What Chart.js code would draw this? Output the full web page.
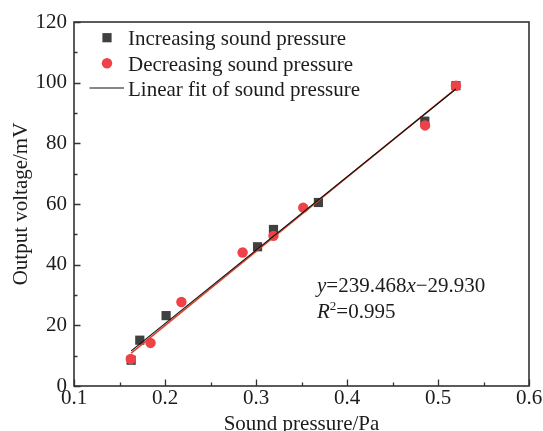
<!DOCTYPE html>
<html>
<head>
<meta charset="utf-8">
<script src="https://cdn.jsdelivr.net/npm/chart.js@4.4.0/dist/chart.umd.min.js"></script>
<style>
html,body{margin:0;padding:0;background:#fff}
canvas{display:block}
</style>
</head>
<body>
<canvas id="chart" width="543" height="431"></canvas>
<script>
// ── data ──
const incX=[0.1628,0.1723,0.2012,0.3017,0.3192,0.3686,0.4855,0.5197];
const incY=[8.5,15.1,23.2,45.9,51.6,60.5,87.3,99.0];
const decX=[0.1624,0.1841,0.2180,0.2853,0.3192,0.3519,0.4858,0.5197];
const decY=[8.9,14.2,27.7,44.0,49.5,58.8,85.9,99.0];
const fitX=[0.1628,0.5197];
const fitY=[11.6,97.9];
const fitRedY=[10.8,98.0];
const xTicks=[0.1,0.2,0.3,0.4,0.5,0.6];
const yTicks=[0,20,40,60,80,100,120];
const labels=['Increasing sound pressure','Decreasing sound pressure','Linear fit of sound pressure'];
const eqLine1=[['y',true],['=239.468',false],['x',true],['\u221229.930',false]];
const eqLine2=[['R',true],['2','sup'],['=0.995',false]];

const FONT='"Liberation Serif","Times New Roman",serif';
const TXT='#1c1c1c', AX='#333';
const pts=(xs,ys)=>xs.map((x,i)=>({x,y:ys[i]}));

// inward ticks, box frame, legend, equation
const decor={
  id:'decor',
  afterDatasetsDraw(chart){
    const {ctx,chartArea:a,scales:{x,y}}=chart;
    ctx.save();
    ctx.strokeStyle=AX;ctx.lineWidth=1.3;
    ctx.beginPath();
    for(let i=0;i<=10;i++){
      const v=x.min+i*0.05, px=Math.round(x.getPixelForValue(v))+0.5;
      const len=i%2?3.5:6.5;
      ctx.moveTo(px,a.bottom);ctx.lineTo(px,a.bottom-len);
    }
    for(let i=0;i<=12;i++){
      const v=y.min+i*10, py=Math.round(y.getPixelForValue(v))+0.5;
      const len=i%2?3.5:6.5;
      ctx.moveTo(a.left,py);ctx.lineTo(a.left+len,py);
    }
    ctx.stroke();
    ctx.lineWidth=1.6;
    ctx.strokeRect(a.left,a.top,a.right-a.left,a.bottom-a.top);

    // legend
    const ds=chart.data.datasets;
    const lx=a.left+33, tx=a.left+54, rows=[a.top+15.7,a.top+41.3,a.top+66];
    ctx.fillStyle=ds[0].backgroundColor;
    const s=4.6; ctx.fillRect(lx-s,rows[0]-s,2*s,2*s);
    ctx.fillStyle=ds[1].backgroundColor;
    ctx.beginPath();ctx.arc(lx,rows[1],5.2,0,Math.PI*2);ctx.fill();
    ctx.strokeStyle=ds[2].borderColor;ctx.lineWidth=1.2;
    ctx.beginPath();ctx.moveTo(a.left+15.5,rows[2]);ctx.lineTo(a.left+50,rows[2]);ctx.stroke();
    ctx.fillStyle=TXT;ctx.font='21px '+FONT;ctx.textBaseline='middle';ctx.textAlign='left';
    labels.forEach((t,i)=>ctx.fillText(t,tx,rows[i]+2));

    // fit equation
    const drawRuns=(runs,x0,base)=>{
      let cx=x0;
      runs.forEach(([t,st])=>{
        if(st==='sup'){ctx.font='13px '+FONT;ctx.fillText(t,cx,base-8);}
        else{ctx.font=(st?'italic ':'')+'21px '+FONT;ctx.fillText(t,cx,base);}
        cx+=ctx.measureText(t).width;
      });
    };
    ctx.textBaseline='alphabetic';
    drawRuns(eqLine1,317,291.5);
    drawRuns(eqLine2,317,318);
    ctx.restore();
  }
};

new Chart(document.getElementById('chart'),{
  type:'scatter',
  data:{datasets:[
    {label:labels[0],data:pts(incX,incY),pointStyle:'rect',pointRadius:6.5,pointHoverRadius:6.5,
     backgroundColor:'#404040',borderWidth:0,order:3},
    {label:labels[1],data:pts(decX,decY),pointStyle:'circle',pointRadius:5.2,pointHoverRadius:5.2,
     backgroundColor:'#ef4248',borderWidth:0,order:2},
    {label:labels[2],data:pts(fitX,fitY),showLine:true,pointRadius:0,borderColor:'#111',borderWidth:1.1,order:0},
    {label:'fit-edge',data:pts(fitX,fitRedY),showLine:true,pointRadius:0,borderColor:'#d8442e',borderWidth:1.6,order:1}
  ]},
  options:{
    responsive:false,animation:false,devicePixelRatio:1,
    layout:{padding:{top:22,right:14,left:0,bottom:0}},
    plugins:{legend:{display:false},tooltip:{enabled:false}},
    scales:{
      x:{type:'linear',min:0.1,max:0.6,
        afterBuildTicks:s=>{s.ticks=xTicks.map(v=>({value:v}));},
        afterFit:s=>{s.height=45;},
        grid:{display:false,drawTicks:false},border:{display:false},
        ticks:{padding:0,color:TXT,font:{family:FONT,size:21},callback:v=>v.toFixed(1),maxRotation:0,autoSkip:false},
        title:{display:true,text:'Sound pressure/Pa',color:TXT,font:{family:FONT,size:21,lineHeight:1},padding:{top:0,bottom:-3.5}}
      },
      y:{min:0,max:120,
        afterBuildTicks:s=>{s.ticks=yTicks.map(v=>({value:v}));},
        afterFit:s=>{s.width=74;},
        grid:{display:false,drawTicks:false},border:{display:false},
        ticks:{padding:7,color:TXT,font:{family:FONT,size:21},autoSkip:false},
        title:{display:true,text:'Output voltage/mV',color:TXT,font:{family:FONT,size:21,lineHeight:1},padding:{top:11,bottom:0}}
      }
    }
  },
  plugins:[decor]
});
</script>
</body>
</html>
